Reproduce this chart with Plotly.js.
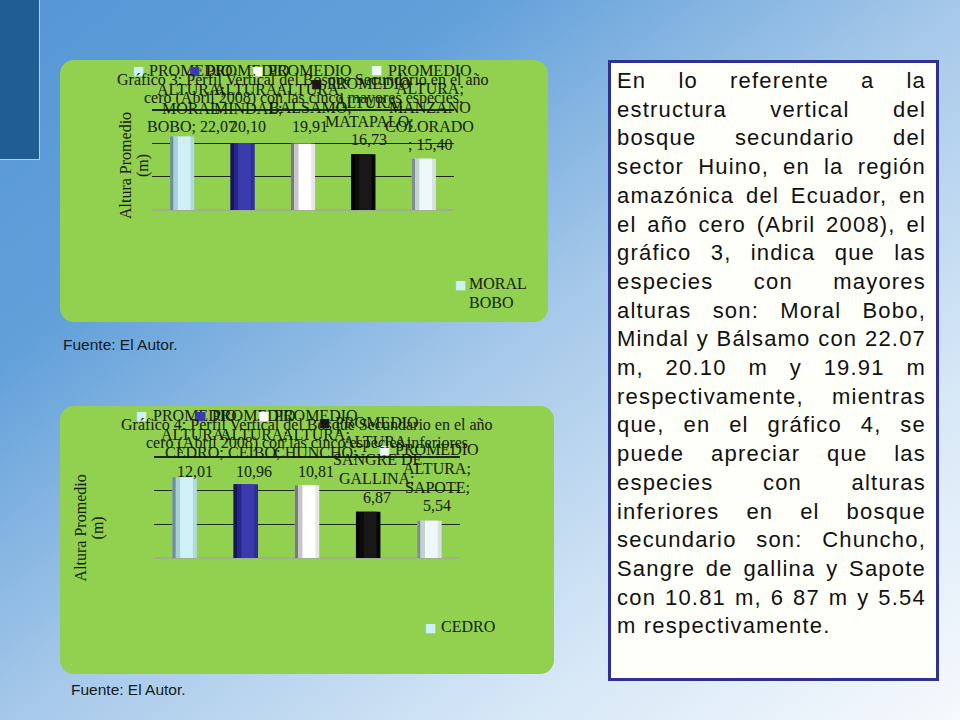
<!DOCTYPE html>
<html lang="es">
<head>
<meta charset="utf-8">
<title>Gráficos 3 y 4 — Perfil vertical del bosque secundario</title>
<script src="https://cdn.plot.ly/plotly-3.0.1.min.js"></script>
<style>
  html, body { margin: 0; padding: 0; }
  body {
    width: 960px; height: 720px; position: relative; overflow: hidden;
    background: linear-gradient(to bottom right, #5596d5 0%, #62a0da 25%, #a5c8e9 50%, #d4e6f6 75%, #f6f9fd 100%);
  }
  .pestana { position: absolute; left: 0; top: 0; width: 39px; height: 159px; background: #1f5d92;
    border-right: 1.5px solid #b9cfe4; border-bottom: 1.5px solid #b9cfe4; }
  .panel { position: absolute; background: #92d050; border-radius: 14px; }
  .panel > div { position: absolute; left: 0; top: 0; }
  .fuente { position: absolute; font: 15.5px/18px "Liberation Sans", Arial, sans-serif; color: #151a22; white-space: nowrap; }
  .texto { position: absolute; left: 608px; top: 60px; width: 331px; height: 621px; box-sizing: border-box;
    border: 3px solid #2e3192; background: #fffffa; padding: 4px 10px 0 6px; }
  .texto div { font: 22px/28.7px "Liberation Sans", Arial, sans-serif; letter-spacing: 1.2px; color: #111;
    text-align: justify; text-align-last: justify; }
  .texto div.fin { text-align: left; text-align-last: left; }
</style>
</head>
<body>
<div class="pestana"></div>

<div class="panel" style="left:60px;top:60px;width:488px;height:262px"><div id="g3"></div></div>
<div class="fuente" style="left:63px;top:336px">Fuente: El Autor.</div>

<div class="panel" style="left:60px;top:406px;width:494px;height:268px"><div id="g4"></div></div>
<div class="fuente" style="left:71px;top:681px">Fuente: El Autor.</div>

<div class="texto">
  <div>En lo referente a la</div>
  <div>estructura vertical del</div>
  <div>bosque secundario del</div>
  <div>sector Huino, en la región</div>
  <div>amazónica del Ecuador, en</div>
  <div>el año cero (Abril 2008), el</div>
  <div>gráfico 3, indica que las</div>
  <div>especies con mayores</div>
  <div>alturas son: Moral Bobo,</div>
  <div>Mindal y Bálsamo con 22.07</div>
  <div>m, 20.10 m y 19.91 m</div>
  <div>respectivamente, mientras</div>
  <div>que, en el gráfico 4, se</div>
  <div>puede apreciar que las</div>
  <div>especies con alturas</div>
  <div>inferiores en el bosque</div>
  <div>secundario son: Chuncho,</div>
  <div>Sangre de gallina y Sapote</div>
  <div>con 10.81 m, 6 87 m y 5.54</div>
  <div class="fin">m respectivamente.</div>
</div>

<script>
(function () {
  "use strict";

  // Gráfico 3: las cinco especies con mayor altura promedio (m)
  var especies3 = ["MORAL<br>BOBO", "MINDAL", "BALSAMO", "MATAPALO", "MANZANO<br>COLORADO"];
  var alturas3 = [22.07, 20.10, 19.91, 16.73, 15.40];
  var corte3 = ["; ", ";<br>", ";<br>", ";<br>", "<br>; "];
  var titulo3 = ["Gráfico 3: Perfil Vertical del Bosque Secundario en el año",
                 "cero (Abril 2008) con las cinco mayores especies."];
  var ejeMax3 = 30, paso3 = 10;

  // Gráfico 4: las cinco especies con menor altura promedio (m)
  var especies4 = ["CEDRO", "CEIBO", "CHUNCHO", "SANGRE DE<br>GALLINA", "SAPOTE"];
  var alturas4 = [12.01, 10.96, 10.81, 6.87, 5.54];
  var corte4 = [";<br>", ";<br>", ";<br>", ";<br>", ";<br>"];
  var titulo4 = ["Gráfico 4: Perfil Vertical del Bosque Secundario en el año",
                 "cero (Abril 2008) con las cinco especies inferiores"];
  var ejeMax4 = 15, paso4 = 5;

  var serie = "PROMEDIO<br>ALTURA;<br>";
  var ejeY = ["Altura Promedio", "(m)"];

  // cylinder look: left edge, highlight, body, right edge (one row per bar)
  var TONOS = [
    ["#6d8e95", "#a6d0d9", "#cff1f6", "#b3d8de"],
    ["#15155a", "#26268a", "#3b3bad", "#2e2e98"],
    ["#7a7a7a", "#c6c6c6", "#ffffff", "#e6e6e6"],
    ["#000000", "#0c0c0c", "#181818", "#060606"],
    ["#7e8e8e", "#c2d2d2", "#eef8f8", "#d6e2e2"]
  ];
  var FRANJAS = [[0, 0.14], [0.14, 0.32], [0.32, 0.84]];
  var ANCHO = 0.4;
  var SERIF = "'Liberation Serif', 'Times New Roman', serif";
  var TINTA = "#141a0e";
  var RENGLON = 18.6;
  var HOLGURA = 3; // px above the top gridline, or plotly drops a grid line sitting on the edge

  function coma(v) { return v.toFixed(2).replace(".", ","); }

  // one annotation per line so the leading stays tight like the original
  function renglones(lista, textos, base, paso) {
    var n = textos.length;
    textos.forEach(function (t, k) {
      lista.push(Object.assign({}, base, { text: t, yshift: base.yshift + (n - 1 - k) * paso }));
    });
  }

  function cuadro(color, extra) {
    return Object.assign({
      text: "■", showarrow: false, xanchor: "center", yanchor: "middle",
      font: { family: "DejaVu Sans", size: 12, color: color }
    }, extra);
  }

  function grafico(id, cfg) {
    var cats = cfg.nombres.map(function (n) { return n.replace("<br>", " "); });
    var F = { family: SERIF, size: 16, color: TINTA };
    var alto = cfg.h - cfg.margin.t - cfg.margin.b;
    var margen = Object.assign({}, cfg.margin, { t: cfg.margin.t - HOLGURA });
    var tope = cfg.max * (alto + HOLGURA) / alto;
    var subir = HOLGURA;

    var trazas = [{
      type: "bar", x: cats, y: cfg.valores, width: ANCHO, offset: -ANCHO / 2,
      marker: { color: TONOS.map(function (t) { return t[3]; }), line: { width: 0 } }
    }];
    FRANJAS.forEach(function (f, k) {
      trazas.push({
        type: "bar", x: cats, y: cfg.valores,
        width: (f[1] - f[0]) * ANCHO, offset: -ANCHO / 2 + f[0] * ANCHO,
        marker: { color: TONOS.map(function (t) { return t[k]; }), line: { width: 0 } }
      });
    });

    var ann = [];
    // data labels (series; category; value) with their legend key
    cfg.nombres.forEach(function (nom, i) {
      var lineas = (serie + nom + cfg.cortes[i] + coma(cfg.valores[i])).split("<br>");
      var dx = cfg.dx[i], dy = cfg.dy[i];
      renglones(ann, lineas, {
        xref: "x", yref: "y", x: cats[i], y: cfg.valores[i], xshift: dx, yshift: dy,
        xanchor: "center", yanchor: "middle", showarrow: false, font: F
      }, RENGLON);
      ann.push(cuadro(TONOS[i][2], {
        xref: "x", yref: "y", x: cats[i], y: cfg.valores[i], xshift: dx - 53,
        yshift: dy + (lineas.length - 1) * RENGLON
      }));
    });
    // chart title (paper y=1 is now HOLGURA px above the top gridline)
    renglones(ann, cfg.titulo, {
      xref: "paper", yref: "paper", x: 0.5, y: 1, yshift: cfg.tituloY - subir,
      xanchor: "center", yanchor: "middle", showarrow: false, font: F
    }, 18);
    // rotated y-axis title, lines stack left to right
    ejeY.forEach(function (t, k) {
      ann.push({
        xref: "paper", yref: "paper", x: 0, y: 0, xshift: cfg.ejeX + k * 18, yshift: alto / 2 + cfg.ejeDy,
        xanchor: "center", yanchor: "middle", text: t, textangle: -90, showarrow: false, font: F
      });
    });
    // legend (only the first entry survives in the original)
    ann.push(cuadro(TONOS[0][2], {
      xref: "paper", yref: "paper", x: 1, y: 0, xshift: cfg.leyenda[0], yshift: cfg.leyenda[1]
    }));
    renglones(ann, cfg.nombres[0].split("<br>"), {
      xref: "paper", yref: "paper", x: 1, y: 0, xshift: cfg.leyenda[2], yshift: cfg.leyenda[3],
      xanchor: "left", yanchor: "middle", showarrow: false, font: F
    }, 19);

    var layout = {
      width: cfg.w, height: cfg.h, margin: margen,
      paper_bgcolor: "rgba(0,0,0,0)", plot_bgcolor: "rgba(0,0,0,0)",
      showlegend: false, barmode: "overlay", font: F,
      xaxis: { type: "category", range: [-0.5, 4.5], showticklabels: false, ticks: "",
               showgrid: false, zeroline: false, showline: false },
      yaxis: { range: [0, tope], tick0: 0, dtick: cfg.paso, showticklabels: false, ticks: "",
               gridcolor: "#1b2a12", gridwidth: 1.4, zeroline: true, zerolinecolor: "#9fb08f",
               zerolinewidth: 2, showline: false },
      annotations: ann
    };
    Plotly.newPlot(id, trazas, layout, { staticPlot: true, displayModeBar: false });
  }

  grafico("g3", {
    nombres: especies3, valores: alturas3, cortes: corte3, titulo: titulo3,
    max: ejeMax3, paso: paso3, w: 488, h: 262,
    margin: { l: 92, r: 94, t: 50, b: 112 },
    dx: [9, 5, 7, 6, 6], dy: [9.7, 16.3, 17.2, 14.5, 14],
    tituloY: 12, ejeX: -27, ejeDy: -6, leyenda: [6, -75, 13, -92]
  });
  grafico("g4", {
    nombres: especies4, valores: alturas4, cortes: corte4, titulo: titulo4,
    max: ejeMax4, paso: paso4, w: 494, h: 268,
    margin: { l: 94, r: 94, t: 51, b: 116 },
    dx: [10, 8, 9, 9, 8], dy: [5.7, 12.8, 13.8, 14.7, 15],
    tituloY: 14.3, ejeX: -73.6, ejeDy: -20.5, leyenda: [-30, -69.7, -21, -68.7]
  });
})();
</script>
</body>
</html>
